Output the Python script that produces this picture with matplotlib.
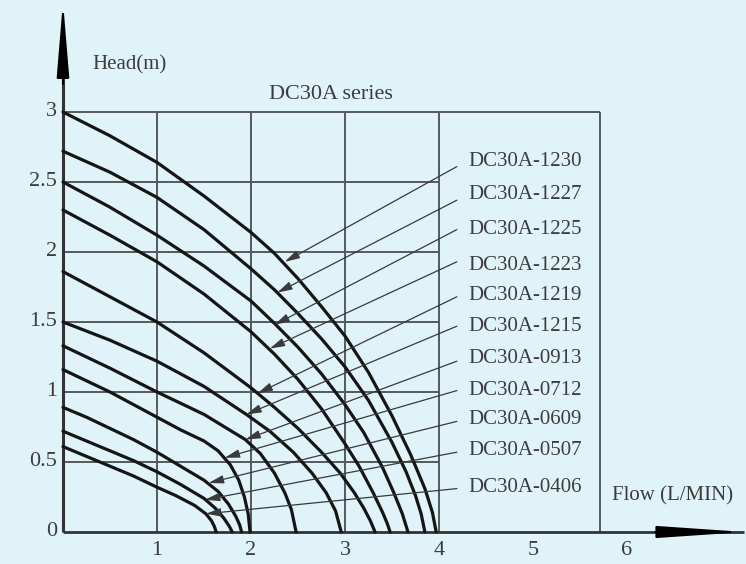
import matplotlib
matplotlib.use('Agg')
import matplotlib.pyplot as plt

# ---- data ----
models = ['DC30A-1230', 'DC30A-1227', 'DC30A-1225', 'DC30A-1223', 'DC30A-1219',
          'DC30A-1215', 'DC30A-0913', 'DC30A-0712', 'DC30A-0609', 'DC30A-0507', 'DC30A-0406']

flow_1230 = [0, 0.5, 1.0, 1.5, 2.0, 2.25, 2.5, 2.75, 3.0, 3.25, 3.5, 3.7, 3.85, 3.93, 3.97]
head_1230 = [3.0, 2.83, 2.64, 2.40, 2.14, 1.99, 1.81, 1.61, 1.40, 1.14, 0.83, 0.55, 0.31, 0.14, 0.0]

flow_1227 = [0, 0.5, 1.0, 1.5, 2.0, 2.25, 2.5, 2.75, 3.0, 3.25, 3.5, 3.65, 3.75, 3.81, 3.85]
head_1227 = [2.72, 2.57, 2.39, 2.16, 1.88, 1.73, 1.56, 1.38, 1.18, 0.94, 0.64, 0.43, 0.26, 0.13, 0.0]

flow_1225 = [0, 0.5, 1.0, 1.5, 2.0, 2.25, 2.5, 2.75, 3.0, 3.2, 3.4, 3.52, 3.61, 3.67]
head_1225 = [2.5, 2.32, 2.12, 1.90, 1.65, 1.49, 1.32, 1.13, 0.91, 0.71, 0.46, 0.28, 0.13, 0.0]

flow_1223 = [0, 0.5, 1.0, 1.5, 2.0, 2.25, 2.5, 2.75, 3.0, 3.15, 3.3, 3.4, 3.45, 3.48]
head_1223 = [2.3, 2.12, 1.93, 1.70, 1.43, 1.27, 1.09, 0.88, 0.63, 0.47, 0.28, 0.14, 0.06, 0.0]

flow_1219 = [0, 0.5, 1.0, 1.5, 2.0, 2.25, 2.5, 2.75, 2.95, 3.1, 3.2, 3.27, 3.32]
head_1219 = [1.86, 1.68, 1.5, 1.28, 1.03, 0.89, 0.74, 0.57, 0.42, 0.28, 0.17, 0.08, 0.0]

flow_1215 = [0, 0.5, 1.0, 1.5, 1.95, 2.2, 2.45, 2.65, 2.8, 2.9, 2.96]
head_1215 = [1.5, 1.37, 1.22, 1.04, 0.84, 0.72, 0.57, 0.42, 0.28, 0.15, 0.0]

flow_0913 = [0, 0.5, 1.0, 1.5, 1.94, 2.1, 2.25, 2.36, 2.43, 2.48]
head_0913 = [1.33, 1.17, 1.0, 0.84, 0.66, 0.56, 0.42, 0.28, 0.16, 0.0]

flow_0712 = [0, 0.25, 0.5, 0.75, 1.0, 1.25, 1.5, 1.65, 1.78, 1.87, 1.93, 1.97, 1.99]
head_0712 = [1.16, 1.08, 1.0, 0.91, 0.82, 0.73, 0.65, 0.58, 0.48, 0.37, 0.25, 0.13, 0.0]

flow_0609 = [0, 0.25, 0.5, 0.75, 1.0, 1.25, 1.5, 1.65, 1.76, 1.84, 1.88, 1.90]
head_0609 = [0.89, 0.82, 0.74, 0.66, 0.57, 0.47, 0.37, 0.29, 0.20, 0.11, 0.05, 0.0]

flow_0507 = [0, 0.25, 0.5, 0.75, 1.0, 1.25, 1.5, 1.62, 1.71, 1.77, 1.80]
head_0507 = [0.72, 0.65, 0.58, 0.51, 0.43, 0.34, 0.24, 0.17, 0.10, 0.04, 0.0]

flow_0406 = [0, 0.25, 0.5, 0.75, 1.0, 1.2, 1.4, 1.52, 1.58, 1.61, 1.63]
head_0406 = [0.61, 0.54, 0.47, 0.40, 0.32, 0.26, 0.19, 0.13, 0.08, 0.04, 0.0]

# leader-arrow tips on each curve and label rows
arrow_flow = [2.36, 2.28, 2.25, 2.2, 2.07, 1.95, 1.94, 1.72, 1.55, 1.51, 1.52]
arrow_head = [1.93, 1.71, 1.48, 1.31, 0.99, 0.84, 0.66, 0.53, 0.35, 0.23, 0.13]
label_head = [2.645, 2.41, 2.16, 1.9, 1.69, 1.47, 1.24, 1.01, 0.8, 0.585, 0.32]
leader_head = [2.61, 2.37, 2.16, 1.93, 1.68, 1.47, 1.22, 1.01, 0.79, 0.57, 0.31]

x_ticks = [1, 2, 3, 4, 5, 6]
y_ticks = [0, 0.5, 1, 1.5, 2, 2.5, 3]
y_tick_labels = ['0', '0.5', '1', '1.5', '2', '2.5', '3']
grid_x = [1, 2, 3, 4]
grid_y = [0.5, 1, 1.5, 2, 2.5]

curves = [(flow_1230, head_1230), (flow_1227, head_1227), (flow_1225, head_1225),
          (flow_1223, head_1223), (flow_1219, head_1219), (flow_1215, head_1215),
          (flow_0913, head_0913), (flow_0712, head_0712), (flow_0609, head_0609),
          (flow_0507, head_0507), (flow_0406, head_0406)]

# ---- styling ----
bg = '#e0f3f8'
grid_c = '#555a5c'
txt_c = '#3c3c3c'
font = 'Liberation Serif'
plt.rcParams['font.family'] = [font, 'DejaVu Serif']

fig = plt.figure(figsize=(7.46, 5.64), dpi=100)
fig.patch.set_facecolor(bg)
ax = fig.add_axes([0, 0, 1, 1])
ax.set_facecolor(bg)
ax.set_xlim(-0.670, 7.266)
ax.set_ylim(-0.2286, 3.80)
ax.axis('off')

box_right = 5.71
box_top = 3.0

# grid
ax.vlines(grid_x, 0, box_top, colors=grid_c, lw=1.4, zorder=1)
ax.hlines(grid_y, 0, 4, colors=grid_c, lw=1.4, zorder=1)
ax.hlines([box_top], 0, box_right, colors=grid_c, lw=1.4, zorder=1)
ax.vlines([box_right], 0, box_top, colors=grid_c, lw=1.4, zorder=1)

# axes lines
ax.plot([0, 0], [0, 3.4], color='#333333', lw=2.2, zorder=3, solid_capstyle='butt')
ax.plot([0, 7.25], [0, 0], color='#333333', lw=2.0, zorder=3, solid_capstyle='butt')
ax.annotate('', xy=(0, 3.79), xytext=(0, 3.2), annotation_clip=False,
            arrowprops=dict(arrowstyle='-|>,head_length=4.6,head_width=0.38',
                            mutation_scale=10, color='black', lw=1.5, shrinkA=0, shrinkB=0))
ax.annotate('', xy=(7.26, 0), xytext=(6.3, 0), annotation_clip=False,
            arrowprops=dict(arrowstyle='-|>,head_length=5.3,head_width=0.36',
                            mutation_scale=10, color='black', lw=1.5, shrinkA=0, shrinkB=0))

# curves
for fx, hy in curves:
    ax.plot(fx, hy, color='#151515', lw=2.3, zorder=4, solid_capstyle='round',
            solid_joinstyle='round')

# leader lines and labels
for name, af, ah, lh, ld in zip(models, arrow_flow, arrow_head, label_head, leader_head):
    ax.annotate('', xy=(af, ah), xytext=(4.19, ld),
                arrowprops=dict(arrowstyle='-|>,head_length=0.9,head_width=0.25',
                                mutation_scale=10, color='#3a3a3a', lw=0.9,
                                shrinkA=0, shrinkB=0), zorder=5)
    ax.text(4.31, lh, name, ha='left', va='center', fontsize=15, color=txt_c, zorder=6)

# tick labels
for xt in x_ticks:
    ax.text(xt, -0.13, str(xt), ha='center', va='center', fontsize=16, color=txt_c)
for yt, yl in zip(y_ticks, y_tick_labels):
    ax.text(-0.06, yt, yl, ha='right', va='center', fontsize=16, color=txt_c)

# titles
ax.text(0.31, 3.34, 'Head(m)', ha='left', va='center', fontsize=15, color=txt_c)
ax.text(2.85, 3.125, 'DC30A series', ha='center', va='center', fontsize=16, color=txt_c)
ax.text(5.84, 0.26, 'Flow (L/MIN)', ha='left', va='center', fontsize=15, color=txt_c)

fig.savefig('out.png', dpi=100, facecolor=bg)
